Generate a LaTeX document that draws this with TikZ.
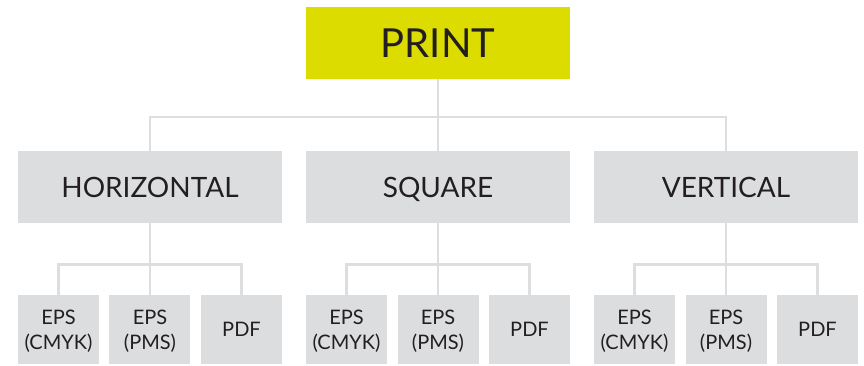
\documentclass[tikz,border=0pt]{standalone}
\usepackage{fontspec}
\setmainfont{Lato}
\usepackage{xcolor}
\usetikzlibrary{positioning, calc}

\definecolor{printyellow}{HTML}{DCDC00}
\definecolor{boxgray}{HTML}{DCDDDF}
\definecolor{linegray}{HTML}{DEDEDE}
\definecolor{textdark}{HTML}{231F20}

\begin{document}
\begin{tikzpicture}[
    x=1pt, y=1pt,
    node distance=72pt and 24pt,
    tile/.style={
        rectangle,
        fill=boxgray,
        text=textdark,
        inner sep=0pt,
        outer sep=0pt,
        align=center,
        text depth=0pt
    },
    format/.style={
        tile,
        minimum width=264pt,
        minimum height=72pt,
        text height=20pt,
        font=\fontsize{28}{32}\selectfont
    },
    top/.style={
        format,
        fill=printyellow,
        text height=29pt,
        font=\fontsize{40}{44}\selectfont
    },
    file/.style={
        tile,
        minimum width=81pt,
        minimum height=69pt,
        font=\fontsize{20}{25}\selectfont
    },
    link/.style={
        draw=linegray,
        line width=2.6pt
    }
]

\useasboundingbox (-438,187) rectangle (426,-178);

% Top level
\node[format] (square) {SQUARE};
\node[top, above=of square] (print) {PRINT};
\node[format, left=of square] (horiz) {HORIZONTAL};
\node[format, right=of square] (vert) {VERTICAL};

% File types
\foreach \fmt in {horiz, square, vert} {
    \node[file, below=72pt of \fmt] (\fmt-pms) {EPS\\(PMS)};
    \node[file, left=10.5pt of \fmt-pms] (\fmt-cmyk) {EPS\\(CMYK)};
    \node[file, right=10.5pt of \fmt-pms] (\fmt-pdf) {PDF};
}

% Connectors
\coordinate (bus) at ($(print.south)!0.53!(square.north)$);
\draw[link] (print) -- (square);
\draw[link] (horiz.north) |- (bus) -| (vert.north);

\foreach \fmt in {horiz, square, vert} {
    \coordinate (\fmt-bus) at ($(\fmt.south)!0.58!(\fmt-pms.north)$);
    \draw[link] (\fmt) -- (\fmt-pms);
    \draw[link] (\fmt-cmyk.north) |- (\fmt-bus) -| (\fmt-pdf.north);
}

\end{tikzpicture}
\end{document}
